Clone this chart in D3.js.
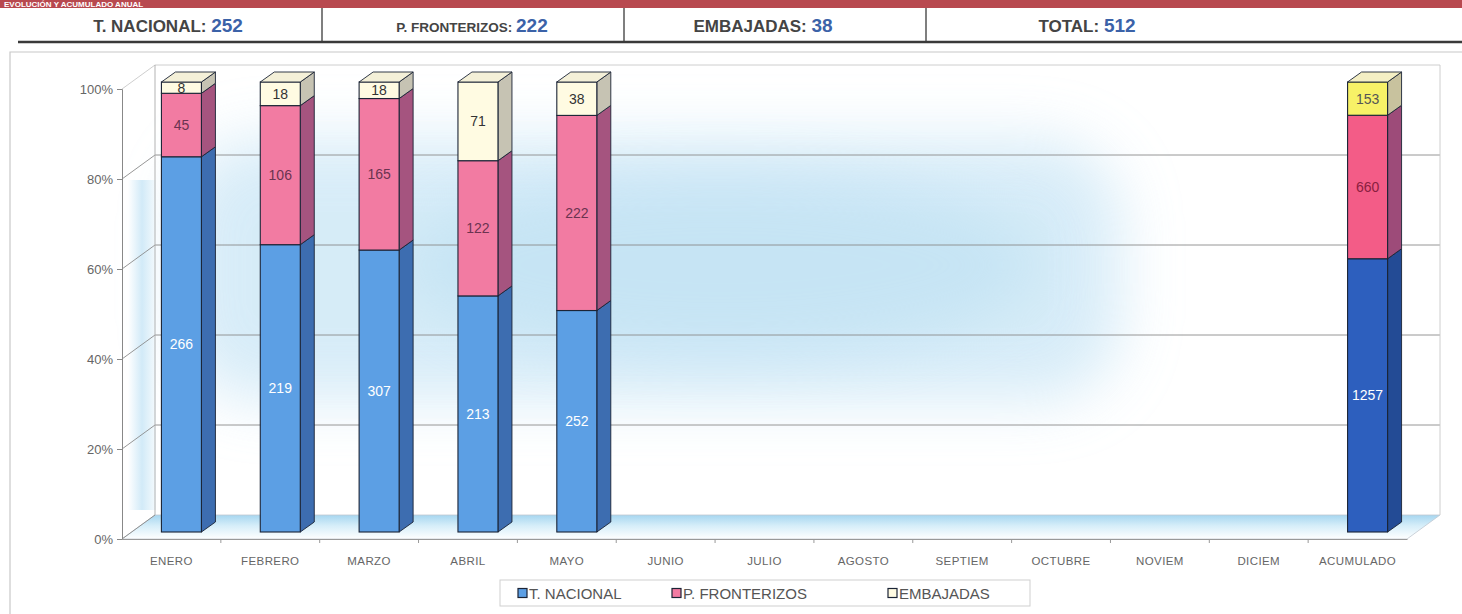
<!DOCTYPE html>
<html>
<head>
<meta charset="utf-8">
<script src="https://cdn.jsdelivr.net/npm/d3@7"></script>
<style>
  body { margin: 0; background: #fff; }
  svg { display: block; }
</style>
</head>
<body>
<svg id="vis" width="1462" height="614"></svg>
<script>
// categories and stacked series (counts, shown as 100% stacked)
let categories = ["ENERO", "FEBRERO", "MARZO", "ABRIL", "MAYO", "JUNIO", "JULIO",
    "AGOSTO", "SEPTIEM", "OCTUBRE", "NOVIEM", "DICIEM", "ACUMULADO"];
let nacional    = [266, 219, 307, 213, 252, 0, 0, 0, 0, 0, 0, 0, 1257];
let fronterizos = [45, 106, 165, 122, 222, 0, 0, 0, 0, 0, 0, 0, 660];
let embajadas   = [8, 18, 18, 71, 38, 0, 0, 0, 0, 0, 0, 0, 153];
let seriesNames = ["T. NACIONAL", "P. FRONTERIZOS", "EMBAJADAS"];
let yTicks = [0, 0.2, 0.4, 0.6, 0.8, 1];

// header summary
let headerLabels = ["T. NACIONAL:", "P. FRONTERIZOS:", "EMBAJADAS:", "TOTAL:"];
let headerValues = [252, 222, 38, 512];

let svg = d3.select("#vis");
let width = 1462, height = 614;

// --- defs
let defs = svg.append("defs");
let floorGrad = defs.append("linearGradient").attr("id", "floorGrad")
    .attr("x1", 0).attr("y1", 0).attr("x2", 0).attr("y2", 1);
floorGrad.append("stop").attr("offset", "0%").attr("stop-color", "#a6d6f0");
floorGrad.append("stop").attr("offset", "45%").attr("stop-color", "#d6eef9");
floorGrad.append("stop").attr("offset", "100%").attr("stop-color", "#ffffff");
let wallGrad = defs.append("linearGradient").attr("id", "wallGrad")
    .attr("x1", 0).attr("y1", 0).attr("x2", 1).attr("y2", 0);
wallGrad.append("stop").attr("offset", "0%").attr("stop-color", "#ffffff");
wallGrad.append("stop").attr("offset", "50%").attr("stop-color", "#cde8f7");
wallGrad.append("stop").attr("offset", "100%").attr("stop-color", "#f4fafd");
defs.append("filter").attr("id", "blur").attr("x", "-20%").attr("y", "-40%")
    .attr("width", "140%").attr("height", "180%")
    .append("feGaussianBlur").attr("stdDeviation", 30);

// --- title band and header
svg.append("rect").attr("x", 0).attr("y", 0).attr("width", width).attr("height", 8).attr("fill", "#b8494f");
svg.append("text").attr("x", 4).attr("y", 7)
    .attr("font-family", "Liberation Sans, Arial, sans-serif").attr("font-weight", "bold")
    .attr("font-size", 8).attr("fill", "#fff").text("EVOLUCIÓN Y ACUMULADO ANUAL");

let headerSep = [322, 624, 926];
let headerCenters = [168, 472, 763, 1087];
let headerSizes = [17, 13.5, 17, 17];
svg.selectAll(".hsep").data(headerSep).enter().append("line")
    .attr("x1", d => d).attr("x2", d => d).attr("y1", 8).attr("y2", 42)
    .attr("stroke", "#555").attr("stroke-width", 1.5);
svg.append("line").attr("x1", 18).attr("x2", width).attr("y1", 42).attr("y2", 42)
    .attr("stroke", "#3a3a3a").attr("stroke-width", 2.5);
let ht = svg.selectAll(".htext").data(headerLabels).enter().append("text")
    .attr("x", (d, i) => headerCenters[i]).attr("y", 32)
    .attr("text-anchor", "middle")
    .attr("font-family", "Liberation Sans Narrow, Arial Narrow, Liberation Sans, sans-serif")
    .attr("font-weight", "bold").attr("fill", "#444");
ht.append("tspan").attr("font-size", (d, i) => headerSizes[i]).text(d => d + " ");
ht.append("tspan").attr("font-size", 19).attr("fill", "#3b62a8").text((d, i) => headerValues[i]);

// chart frame
svg.append("path").attr("d", "M10,614 L10,52 L" + width + ",52")
    .attr("fill", "none").attr("stroke", "#c8c8c8").attr("stroke-width", 1.2);

// --- scales
let x = d3.scaleBand().domain(categories).range([122, 1407]).paddingInner(0).paddingOuter(0);
let y = d3.scaleLinear().domain([0, 1]).range([539, 89]);
let wall = [33, -24];       // back wall offset
let barOff = [10, -7];      // bar front offset
let barDepth = [14, -10];   // bar side depth
let barW = 40;

// background glow
svg.append("rect").attr("x", 180).attr("y", 140).attr("width", 940).attr("height", 260)
    .attr("rx", 80)
    .attr("fill", "#c6e4f5").attr("opacity", 0.7).attr("filter", "url(#blur)");
svg.append("ellipse").attr("cx", 720).attr("cy", 265).attr("rx", 320).attr("ry", 90)
    .attr("fill", "#b3dbf1").attr("opacity", 0.45).attr("filter", "url(#blur)");
svg.append("rect").attr("x", 128).attr("y", 180).attr("width", 28).attr("height", 330)
    .attr("fill", "url(#wallGrad)").attr("opacity", 0.9);

// floor
let x0 = x.range()[0], x1 = x.range()[1];
svg.append("path")
    .attr("d", `M${x0},${y(0)} L${x1},${y(0)} L${x1 + wall[0]},${y(0) + wall[1]} L${x0 + wall[0]},${y(0) + wall[1]} Z`)
    .attr("fill", "url(#floorGrad)").attr("stroke", "#c0c8d0").attr("stroke-width", 0.8);

// walls and gridlines
let grid = svg.append("g").attr("stroke", "#8a8a8a").attr("fill", "none").attr("stroke-width", 0.9);
grid.selectAll(".gl").data(yTicks.filter(d => d > 0)).enter().append("path")
    .attr("d", d => `M${x0},${y(d)} L${x0 + wall[0]},${y(d) + wall[1]} L${x1 + wall[0]},${y(d) + wall[1]}`)
    .attr("stroke", d => d === 1 ? "#c8c8c8" : "#8a8a8a");
grid.append("line").attr("x1", x0 + wall[0]).attr("x2", x0 + wall[0])
    .attr("y1", y(0) + wall[1]).attr("y2", y(1) + wall[1]).attr("stroke", "#aaa");
grid.append("line").attr("x1", x1 + wall[0]).attr("x2", x1 + wall[0])
    .attr("y1", y(0) + wall[1]).attr("y2", y(1) + wall[1]).attr("stroke", "#c8c8c8");
grid.append("line").attr("x1", x0).attr("x2", x0 + wall[0])
    .attr("y1", y(0)).attr("y2", y(0) + wall[1]).attr("stroke", "#888");

// --- axes
let yAxis = d3.axisLeft(y).tickValues(yTicks).tickFormat(d3.format(".0%")).tickSize(5).tickPadding(4);
let gy = svg.append("g").attr("transform", `translate(${x0},0)`).call(yAxis);
gy.select(".domain").attr("stroke", "#888");
gy.selectAll(".tick line").attr("stroke", "#888");
gy.selectAll("text").attr("font-family", "Liberation Sans, Arial, sans-serif")
    .attr("font-size", 13).attr("fill", "#666");

let xAxis = d3.axisBottom(x).tickSize(0).tickPadding(18);
let gx = svg.append("g").attr("transform", `translate(0,${y(0)})`).call(xAxis);
gx.select(".domain").attr("stroke", "#999");
gx.selectAll("text").attr("font-family", "Liberation Sans, Arial, sans-serif")
    .attr("font-size", 11.5).attr("letter-spacing", "0.4px").attr("fill", "#666");
gx.selectAll(".bt").data(categories.slice(1)).enter().append("line").attr("class", "bt")
    .attr("x1", d => x(d)).attr("x2", d => x(d)).attr("y1", 0).attr("y2", 4).attr("stroke", "#999");

// --- bars
let rows = categories.map((c, i) => ({
    cat: c, nac: nacional[i], fro: fronterizos[i], emb: embajadas[i], acc: c === "ACUMULADO"
}));
let stack = d3.stack().keys(["nac", "fro", "emb"]).offset(d3.stackOffsetExpand);
let stacked = stack(rows);

let colors = {
    month: [
        {front: "#5c9fe4", side: "#3d6db0", top: "#8cc0f0", label: "#ffffff"},
        {front: "#f27ba2", side: "#a5547f", top: "#f8a9c2", label: "#6b3350"},
        {front: "#fffbe2", side: "#c6c3b3", top: "#f4f0d8", label: "#333333"}
    ],
    acc: [
        {front: "#2d5fbe", side: "#234b95", top: "#5b88d8", label: "#ffffff"},
        {front: "#f35c87", side: "#9d4b79", top: "#f58daa", label: "#8a2040"},
        {front: "#f7f167", side: "#c8c29e", top: "#f4efc4", label: "#555555"}
    ]
};

let bars = svg.append("g");
rows.forEach((r, i) => {
    if (r.nac + r.fro + r.emb === 0) return;
    let fx = x(r.cat) + (x.bandwidth() - barW) / 2 + barOff[0];
    let pal = r.acc ? colors.acc : colors.month;
    let g = bars.append("g");
    stacked.forEach((s, k) => {
        let v0 = s[i][0], v1 = s[i][1];
        let yb = y(v0) + barOff[1], yt = y(v1) + barOff[1];
        let c = pal[k];
        // side face
        g.append("path")
            .attr("d", `M${fx + barW},${yb} L${fx + barW + barDepth[0]},${yb + barDepth[1]} L${fx + barW + barDepth[0]},${yt + barDepth[1]} L${fx + barW},${yt} Z`)
            .attr("fill", c.side).attr("stroke", "#1b2436").attr("stroke-width", 0.9);
        // front face
        g.append("rect").attr("x", fx).attr("y", yt).attr("width", barW).attr("height", yb - yt)
            .attr("fill", c.front).attr("stroke", "#1b2436").attr("stroke-width", 1.1);
        if (k === 2) {
            g.append("path")
                .attr("d", `M${fx},${yt} L${fx + barDepth[0]},${yt + barDepth[1]} L${fx + barW + barDepth[0]},${yt + barDepth[1]} L${fx + barW},${yt} Z`)
                .attr("fill", c.top).attr("stroke", "#1b2436").attr("stroke-width", 0.9);
        }
        let val = [r.nac, r.fro, r.emb][k];
        g.append("text").attr("x", fx + barW / 2).attr("y", (yt + yb) / 2).attr("dy", "0.36em")
            .attr("text-anchor", "middle")
            .attr("font-family", "Liberation Sans, Arial, sans-serif")
            .attr("font-size", 14).attr("fill", c.label)
            .text(val);
    });
});

// --- legend
let legend = svg.append("g").attr("transform", "translate(500,580)");
legend.append("rect").attr("width", 530).attr("height", 26)
    .attr("fill", "#fff").attr("stroke", "#cfcfcf");
let legX = [18, 172, 388];
let li = legend.selectAll(".li").data(seriesNames).enter().append("g")
    .attr("transform", (d, i) => `translate(${legX[i]},0)`);
li.append("rect").attr("x", 0).attr("y", 8.5).attr("width", 9).attr("height", 9)
    .attr("fill", (d, i) => colors.month[i].front).attr("stroke", "#1b2436").attr("stroke-width", 1.2);
li.append("text").attr("x", 11).attr("y", 18.5)
    .attr("font-family", "Liberation Sans, Arial, sans-serif")
    .attr("font-size", 15).attr("fill", "#555").text(d => d);
</script>
</body>
</html>
